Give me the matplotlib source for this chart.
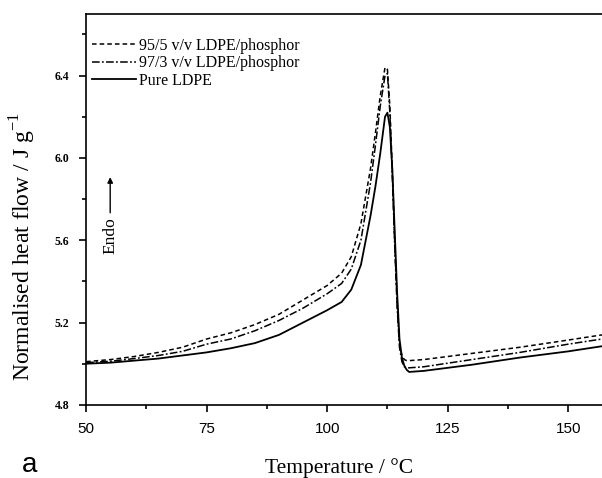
import numpy as np
import matplotlib
matplotlib.use("Agg")
import matplotlib.pyplot as plt

temp = [50, 55, 60, 65, 70, 75, 80, 85, 90, 95, 100, 103, 105, 107, 109, 110,
        111, 112, 112.5, 113, 113.5, 114, 114.5, 115, 115.5, 116, 116.5, 117,
        120, 130, 140, 150, 157]

# Normalised heat flow (J/g) for each sample
ldpe_95_5 = [5.01, 5.02, 5.035, 5.055, 5.08, 5.12, 5.15, 5.19, 5.24, 5.31, 5.38,
             5.44, 5.52, 5.68, 5.95, 6.12, 6.30, 6.44, 6.43, 6.25, 5.95, 5.60,
             5.30, 5.10, 5.04, 5.02, 5.015, 5.015, 5.02, 5.05, 5.08, 5.115, 5.14]
ldpe_97_3 = [5.005, 5.012, 5.025, 5.04, 5.06, 5.095, 5.12, 5.16, 5.21, 5.27, 5.34,
             5.39, 5.46, 5.60, 5.88, 6.06, 6.25, 6.40, 6.41, 6.22, 5.92, 5.58,
             5.28, 5.08, 5.01, 4.985, 4.98, 4.98, 4.985, 5.02, 5.055, 5.095, 5.12]
pure_ldpe = [5.00, 5.005, 5.015, 5.025, 5.04, 5.055, 5.075, 5.10, 5.14, 5.20, 5.26,
             5.30, 5.36, 5.48, 5.72, 5.86, 6.02, 6.20, 6.22, 6.15, 5.95, 5.65,
             5.35, 5.12, 5.03, 4.99, 4.97, 4.96, 4.965, 4.995, 5.03, 5.06, 5.085]

serif = "Liberation Serif"
sans = "Liberation Sans"

fig = plt.figure(figsize=(6.02, 4.78), dpi=100)
ax = fig.add_axes([0.143, 0.153, 0.857, 0.818])

ax.plot(temp, ldpe_95_5, color="black", lw=1.1, ls=(0, (3, 2)),
        label="95/5 v/v LDPE/phosphor")
ax.plot(temp, ldpe_97_3, color="black", lw=1.1, ls=(0, (5, 1.5, 1.2, 1.5)),
        label="97/3 v/v LDPE/phosphor")
ax.plot(temp, pure_ldpe, color="black", lw=1.3, ls="-", label="Pure LDPE")

ax.set_xlim(50, 157)
ax.set_ylim(4.8, 6.7)
ax.set_xticks([50, 75, 100, 125, 150])
ax.set_xticks(np.arange(62.5, 157, 25), minor=True)
ax.set_yticks([4.8, 5.2, 5.6, 6.0, 6.4])
ax.set_yticks([5.0, 5.4, 5.8, 6.2, 6.6], minor=True)
ax.set_yticklabels(["4.8", "5.2", "5.6", "6.0", "6.4"], fontfamily=serif,
                   fontweight="bold", fontsize=8.5)
ax.set_xticklabels(["50", "75", "100", "125", "150"], fontfamily=sans, fontsize=11)
ax.tick_params(which="major", direction="out", length=5, width=1.2)
ax.tick_params(which="minor", direction="out", length=3, width=1.2)
ax.tick_params(axis="y", which="major", pad=7)
ax.tick_params(axis="x", which="major", pad=7)
ax.spines["right"].set_visible(False)
for s in ["left", "bottom", "top"]:
    ax.spines[s].set_linewidth(1.2)

ax.set_xlabel("Temperature / \u00b0C", fontfamily=serif, fontsize=15.5)
ax.xaxis.set_label_coords(0.49, -0.135)
ax.set_ylabel("Normalised heat flow / J g$^{\\mathregular{-1}}$", fontfamily=serif,
              fontsize=17)
ax.yaxis.set_label_coords(-0.093, 0.405)

leg = ax.legend(loc="upper left", frameon=False, prop={"family": serif, "size": 11.5},
                handlelength=2.75, handletextpad=0.15, labelspacing=0.1,
                borderaxespad=0.0, bbox_to_anchor=(0.0, 0.955))

# Endo arrow
ax.annotate("", xy=(55, 5.92), xytext=(55, 5.72),
            arrowprops=dict(arrowstyle="-|>", color="black", lw=1.0,
                            mutation_scale=8))
ax.text(55, 5.62, "Endo", rotation=90, ha="center", va="center",
        fontfamily=serif, fontsize=12.5)

fig.text(0.037, 0.027, "a", fontfamily=sans, fontsize=20, va="center")

fig.savefig("out.png", dpi=100)
